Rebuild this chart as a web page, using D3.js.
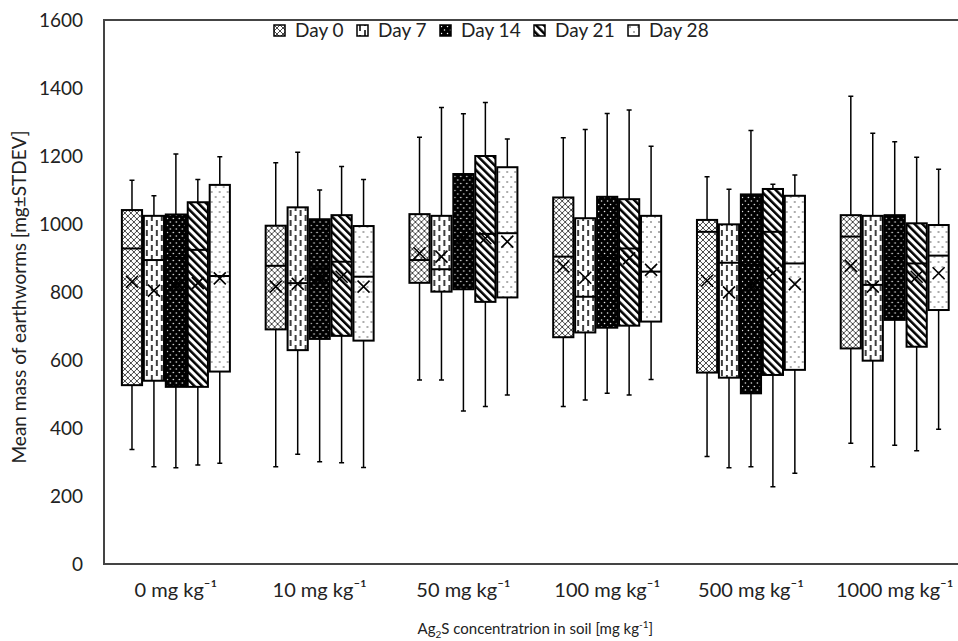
<!DOCTYPE html>
<html>
<head>
<meta charset="utf-8">
<script src="https://cdn.jsdelivr.net/npm/d3@7"></script>
<style>
  body { margin: 0; background: #fff; }
  svg { font-family: Lato, "Open Sans", sans-serif; }
</style>
</head>
<body>
<div id="chart"></div>
<script>
// concentration groups and sampling days
const categories = ["0 mg kg⁻¹", "10 mg kg⁻¹", "50 mg kg⁻¹", "100 mg kg⁻¹", "500 mg kg⁻¹", "1000 mg kg⁻¹"];
const days = ["Day 0", "Day 7", "Day 14", "Day 21", "Day 28"];
const yTicks = [0, 200, 400, 600, 800, 1000, 1200, 1400, 1600];

// values per group, one entry per day
const whiskerMax = [
    [1129, 1083, 1206, 1131, 1198],
    [1180, 1211, 1100, 1169, 1131],
    [1255, 1343, 1324, 1357, 1250],
    [1254, 1278, 1325, 1335, 1229],
    [1139, 1102, 1275, 1117, 1144],
    [1376, 1267, 1242, 1196, 1161]
];
const q3 = [
    [1041, 1024, 1028, 1064, 1115],
    [995, 1049, 1014, 1026, 994],
    [1029, 1024, 1147, 1200, 1167],
    [1078, 1017, 1080, 1073, 1024],
    [1012, 999, 1087, 1103, 1083],
    [1026, 1024, 1026, 1002, 997]
];
const median = [
    [928, 894, 900, 924, 847],
    [877, 826, 870, 889, 845],
    [894, 867, 950, 971, 973],
    [904, 786, 900, 928, 860],
    [977, 886, 880, 977, 884],
    [963, 821, 900, 884, 907]
];
const q1 = [
    [526, 539, 521, 521, 566],
    [690, 629, 662, 671, 657],
    [827, 801, 808, 771, 784],
    [667, 681, 695, 701, 713],
    [563, 548, 502, 556, 571],
    [634, 598, 718, 639, 747]
];
const whiskerMin = [
    [337, 286, 283, 291, 296],
    [286, 323, 301, 298, 284],
    [541, 541, 450, 463, 497],
    [463, 482, 502, 497, 543],
    [316, 283, 286, 227, 267],
    [355, 286, 349, 333, 396]
];
const mean = [
    [830, 804, 820, 826, 840],
    [816, 824, 840, 845, 816],
    [914, 904, 960, 958, 948],
    [875, 842, 890, 899, 865],
    [833, 799, 820, 855, 823],
    [877, 816, 870, 845, 855]
];

const width = 958, height = 641;
const plotLeft = 104, plotRight = 966.6, plotTop = 20, plotBottom = 564;

const svg = d3.select("#chart").append("svg")
    .attr("width", width)
    .attr("height", height);

// fill patterns, one per day
const defs = svg.append("defs");

const p0 = defs.append("pattern").attr("id", "pat0")
    .attr("patternUnits", "userSpaceOnUse").attr("width", 6).attr("height", 6);
p0.append("rect").attr("width", 6).attr("height", 6).attr("fill", "#fff");
p0.append("path").attr("d", "M0,0L6,6M6,0L0,6M-1,5L1,7M5,-1L7,1M-1,1L1,-1M5,7L7,5")
    .attr("stroke", "#333").attr("stroke-width", 0.9);

const p1 = defs.append("pattern").attr("id", "pat1")
    .attr("patternUnits", "userSpaceOnUse").attr("width", 10).attr("height", 10);
p1.append("rect").attr("width", 10).attr("height", 10).attr("fill", "#fff");
p1.append("path").attr("d", "M3,0V6M8,5V10M8,0V1")
    .attr("stroke", "#000").attr("stroke-width", 1.5);

const p2 = defs.append("pattern").attr("id", "pat2")
    .attr("patternUnits", "userSpaceOnUse").attr("width", 6).attr("height", 7);
p2.append("rect").attr("width", 6).attr("height", 7).attr("fill", "#000");
p2.append("circle").attr("cx", 1.5).attr("cy", 1.5).attr("r", 0.75).attr("fill", "#fff");
p2.append("circle").attr("cx", 4.5).attr("cy", 5).attr("r", 0.75).attr("fill", "#fff");

const p3 = defs.append("pattern").attr("id", "pat3")
    .attr("patternUnits", "userSpaceOnUse").attr("width", 5.5).attr("height", 5.5)
    .attr("patternTransform", "rotate(-45)");
p3.append("rect").attr("width", 5.5).attr("height", 5.5).attr("fill", "#fff");
p3.append("rect").attr("width", 2.5).attr("height", 5.5).attr("fill", "#000");

const p4 = defs.append("pattern").attr("id", "pat4")
    .attr("patternUnits", "userSpaceOnUse").attr("width", 8).attr("height", 10);
p4.append("rect").attr("width", 8).attr("height", 10).attr("fill", "#fff");
p4.append("circle").attr("cx", 2).attr("cy", 2).attr("r", 0.8).attr("fill", "#444");
p4.append("circle").attr("cx", 6).attr("cy", 7).attr("r", 0.8).attr("fill", "#444");

const fills = days.map((d, i) => "url(#pat" + i + ")");

// scales
const x0 = d3.scaleBand().domain(categories).range([plotLeft, plotRight]).padding(0);
const groupW = 108;
const x1 = d3.scaleBand().domain(days).range([0, groupW]).paddingInner(0.08);
const y = d3.scaleLinear().domain([0, 1600]).range([plotBottom, plotTop]);

// axes
svg.append("g")
    .attr("transform", `translate(${plotLeft},0)`)
    .call(d3.axisLeft(y).tickValues(yTicks).tickFormat(d3.format("d")).tickSize(0).tickPadding(21))
    .call(g => g.select(".domain").remove())
    .selectAll("text")
    .attr("font-size", 19).attr("fill", "#222").attr("font-family", "Lato");

svg.append("g")
    .attr("transform", `translate(0,${plotBottom})`)
    .call(d3.axisBottom(x0).tickSize(0).tickPadding(19))
    .call(g => g.select(".domain").remove())
    .selectAll("text")
    .attr("font-size", 20).attr("fill", "#222").attr("font-family", "Lato");

// plot frame (top, left, bottom)
svg.append("path")
    .attr("d", `M${width + 5},${plotTop}H${plotLeft}V${plotBottom}H${width + 5}`)
    .attr("fill", "none").attr("stroke", "#444").attr("stroke-width", 2);

// boxes
const rows = [];
categories.forEach((c, gi) => {
    days.forEach((d, di) => {
        rows.push({
            cat: c, day: d, di,
            lo: whiskerMin[gi][di], q1: q1[gi][di], med: median[gi][di],
            q3: q3[gi][di], hi: whiskerMax[gi][di], mean: mean[gi][di]
        });
    });
});

const offset = (x0.bandwidth() - groupW) / 2;
const bw = x1.bandwidth();

const box = svg.append("g").selectAll("g")
    .data(rows)
    .enter()
    .append("g")
    .attr("transform", d => `translate(${x0(d.cat) + offset + x1(d.day)},0)`);

// whiskers
box.append("path")
    .attr("d", d => `M${bw / 2},${y(d.hi)}V${y(d.lo)}M${bw / 2 - 2.5},${y(d.hi)}h5M${bw / 2 - 2.5},${y(d.lo)}h5`)
    .attr("stroke", "#000").attr("stroke-width", 1.5).attr("fill", "none");

box.append("rect")
    .attr("y", d => y(d.q3))
    .attr("width", bw)
    .attr("height", d => y(d.q1) - y(d.q3))
    .attr("fill", d => fills[d.di])
    .attr("stroke", "#000").attr("stroke-width", 2);

box.append("line")
    .attr("x1", 0).attr("x2", bw)
    .attr("y1", d => y(d.med)).attr("y2", d => y(d.med))
    .attr("stroke", "#000").attr("stroke-width", 2);

// mean marker
box.append("path")
    .attr("d", d => {
        const cx = bw / 2, cy = y(d.mean), s = 6;
        return `M${cx - s},${cy - s}L${cx + s},${cy + s}M${cx + s},${cy - s}L${cx - s},${cy + s}`;
    })
    .attr("stroke", "#000").attr("stroke-width", 1.6).attr("fill", "none");

// legend
const legendX = [274, 357, 440, 534, 628];
const legend = svg.append("g").selectAll("g")
    .data(days)
    .enter()
    .append("g")
    .attr("transform", (d, i) => `translate(${legendX[i]},25)`);

legend.append("rect")
    .attr("width", 11).attr("height", 11)
    .attr("fill", (d, i) => fills[i])
    .attr("stroke", "#000").attr("stroke-width", 1.5);

legend.append("text")
    .attr("x", 21).attr("y", 12)
    .attr("font-size", 19).attr("fill", "#222")
    .text(d => d);

// axis titles
const xt = svg.append("text")
    .attr("x", (plotLeft + plotRight) / 2).attr("y", 634)
    .attr("text-anchor", "middle")
    .attr("font-size", 15).attr("fill", "#222");
xt.append("tspan").text("Ag");
xt.append("tspan").attr("font-size", 10).attr("dy", 4).text("2");
xt.append("tspan").attr("dy", -4).text("S concentratrion in soil [mg kg");
xt.append("tspan").attr("font-size", 10).attr("dy", -6).text("-1");
xt.append("tspan").attr("dy", 6).text("]");

svg.append("text")
    .attr("transform", `translate(26,${(plotTop + plotBottom) / 2 + 5}) rotate(-90)`)
    .attr("text-anchor", "middle")
    .attr("font-size", 19).attr("fill", "#222")
    .text("Mean mass of earthworms [mg±STDEV]");
</script>
</body>
</html>
